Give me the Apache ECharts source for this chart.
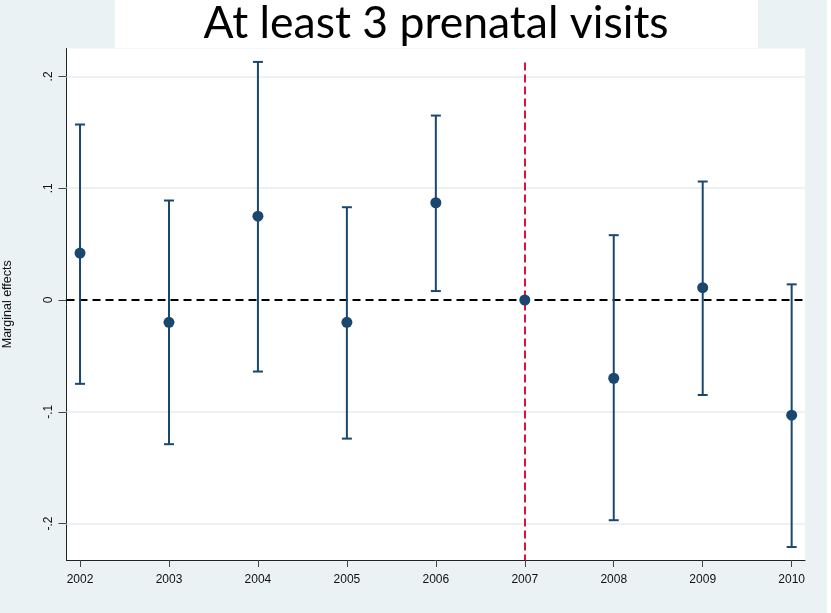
<!DOCTYPE html>
<html>
<head>
<meta charset="utf-8">
<title>At least 3 prenatal visits</title>
<script src="https://cdn.jsdelivr.net/npm/echarts@6/dist/echarts.min.js"></script>
<style>
  html, body { margin: 0; padding: 0; background: #eaf2f3; }
  #chart { width: 831px; height: 613px; }
</style>
</head>
<body>
<div id="chart"></div>
<script>
// Yearly marginal effects with 95% confidence intervals
const years     = [2002, 2003, 2004, 2005, 2006, 2007, 2008, 2009, 2010];
const estimates = [0.042, -0.020, 0.075, -0.020, 0.087, 0.000, -0.070, 0.011, -0.103];
const lower     = [-0.075, -0.129, -0.064, -0.124, 0.008, null, -0.197, -0.085, -0.221];
const upper     = [0.157, 0.089, 0.213, 0.083, 0.165, null, 0.058, 0.106, 0.014];

// Axis ticks and their Stata-style labels
const yTicks      = [-0.2, -0.1, 0, 0.1, 0.2];
const yTickLabels = ['-.2', '-.1', '0', '.1', '.2'];
const gridValues  = [-0.2, -0.1, 0.1, 0.2];
const referenceYear = 2007;
const referenceTop  = 0.2125;

const NAVY = '#1a476f';
const YMIN = -0.2326, YMAX = 0.225;

const chart = echarts.init(document.getElementById('chart'), null, { renderer: 'canvas' });

const ciData = years
  .map((y, i) => [y, lower[i], upper[i]])
  .filter(d => d[1] !== null && d[2] !== null);

const option = {
  backgroundColor: '#eaf2f3',
  animation: false,
  graphic: [
    { type: 'rect', left: 827, top: 0, shape: { width: 4, height: 613 }, style: { fill: '#ffffff' }, silent: true },
    { type: 'rect', left: 115, top: 0, shape: { width: 643, height: 48 }, style: { fill: '#ffffff' }, z: 100, silent: true },
    {
      type: 'text', x: 436, y: 24, z: 101,
      style: {
        text: 'At least 3 prenatal visits',
        fontFamily: 'Lato, "Open Sans", sans-serif',
        fontSize: 44.5, fill: '#000000',
        align: 'center', verticalAlign: 'middle'
      }
    }
  ],
  grid: {
    left: 66.5, right: 26, top: 48.5, bottom: 53,
    outerBoundsMode: 'none', containLabel: false,
    show: true, backgroundColor: '#ffffff', borderWidth: 0
  },
  xAxis: {
    type: 'value', min: 2001.848, max: 2010.15,
    splitLine: { show: false },
    axisLine: { show: true, onZero: false, lineStyle: { color: '#222', width: 1 } },
    axisTick: { show: true, length: 7, customValues: years, lineStyle: { color: '#444', width: 1 } },
    axisLabel: {
      customValues: years, margin: 14,
      fontFamily: '"Liberation Sans", Arial, sans-serif', fontSize: 12, color: '#111',
      formatter: v => String(v)
    }
  },
  yAxis: {
    type: 'value', min: YMIN, max: YMAX,
    name: 'Marginal effects', nameLocation: 'middle', nameGap: 52, nameRotate: 90,
    nameTextStyle: { fontFamily: '"Liberation Sans", Arial, sans-serif', fontSize: 12.5, color: '#111' },
    splitLine: { show: false },
    axisLine: { show: true, onZero: false, lineStyle: { color: '#222', width: 1 } },
    axisTick: { show: true, length: 8, customValues: yTicks, lineStyle: { color: '#444', width: 1 } },
    axisLabel: {
      customValues: yTicks, rotate: 90, margin: 12,
      fontFamily: '"Liberation Sans", Arial, sans-serif', fontSize: 12, color: '#111',
      formatter: v => {
        const k = yTicks.findIndex(t => Math.abs(t - v) < 1e-9);
        return k >= 0 ? yTickLabels[k] : '';
      }
    }
  },
  series: [
    {
      // horizontal gridlines and the zero reference line
      type: 'line', data: [], silent: true, z: 1,
      markLine: {
        silent: true, symbol: 'none', animation: false, z: 1,
        label: { show: false },
        data: gridValues.map(v => ({ yAxis: v, lineStyle: { color: '#e6eef1', width: 1.5, type: 'solid' } }))
          .concat([{ yAxis: 0, lineStyle: { color: '#000000', width: 2, type: [8, 5] } }])
      }
    },
    {
      // vertical reference line at the reform year
      type: 'line', data: [], silent: true, z: 2,
      markLine: {
        silent: true, symbol: 'none', animation: false, z: 2,
        label: { show: false },
        data: [[
          { coord: [referenceYear, referenceTop] },
          { coord: [referenceYear, YMIN] }
        ]],
        lineStyle: { color: '#dc143c', width: 2, type: [8, 4] }
      }
    },
    {
      // confidence intervals with caps
      type: 'custom', data: ciData, z: 3,
      encode: { x: 0, y: [1, 2] },
      renderItem: (params, api) => {
        const x = api.value(0);
        const lo = api.coord([x, api.value(1)]);
        const hi = api.coord([x, api.value(2)]);
        const hw = 5;
        const style = { stroke: NAVY, lineWidth: 2, fill: null };
        return {
          type: 'group',
          children: [
            { type: 'line', shape: { x1: lo[0], y1: lo[1], x2: hi[0], y2: hi[1] }, style },
            { type: 'line', shape: { x1: lo[0] - hw, y1: lo[1], x2: lo[0] + hw, y2: lo[1] }, style },
            { type: 'line', shape: { x1: hi[0] - hw, y1: hi[1], x2: hi[0] + hw, y2: hi[1] }, style }
          ]
        };
      }
    },
    {
      // point estimates
      type: 'scatter', z: 10,
      data: years.map((y, i) => [y, estimates[i]]),
      symbol: 'circle', symbolSize: 11,
      itemStyle: { color: NAVY, opacity: 1 }
    }
  ]
};

chart.setOption(option);
</script>
</body>
</html>
